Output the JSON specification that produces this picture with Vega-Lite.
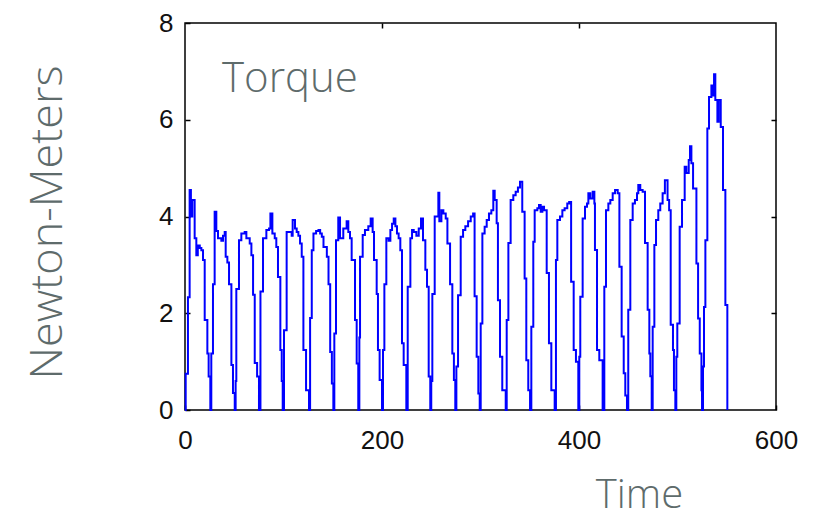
{
  "$schema": "https://vega.github.io/schema/vega-lite/v6.json",
  "width": 591,
  "height": 387,
  "autosize": {"type": "none"},
  "padding": {"left": 185, "top": 23, "right": 37, "bottom": 102},
  "background": "white",
  "config": {
    "view": {"stroke": "#000000", "strokeWidth": 1.5},
    "axis": {"grid": false, "domain": false, "tickSize": -5, "tickWidth": 1.5, "tickColor": "#000000", "labelFlush": false, "labelOverlap": false, "labelFont": "Liberation Sans", "labelFontSize": 26, "labelColor": "#111111"}
  },
  "layer": [
    {
      "data": {"values": [
        {"t":0,"v":0},{"t":0.7,"v":0.75},{"t":3,"v":2.33},{"t":4.7,"v":4.55},{"t":6,"v":4.0},{"t":7.4,"v":4.34},{"t":9.8,"v":3.55},{"t":11.5,"v":3.2},{"t":13,"v":3.4},{"t":15,"v":3.35},{"t":16.6,"v":3.3},{"t":18.3,"v":3.1},{"t":20,"v":1.86},{"t":22.7,"v":1.17},{"t":24,"v":0.69},{"t":25.7,"v":0},
        {"t":26.7,"v":1.17},{"t":28.4,"v":2.6},{"t":30.1,"v":4.1},{"t":31.8,"v":3.7},{"t":33.5,"v":3.55},{"t":36.9,"v":3.5},{"t":38.6,"v":3.6},{"t":40.3,"v":3.68},{"t":41.3,"v":3.17},{"t":43,"v":3.05},{"t":44.7,"v":2.6},{"t":47.1,"v":0.93},{"t":48.7,"v":0.35},{"t":50.5,"v":0},
        {"t":51.4,"v":0.6},{"t":52.1,"v":2.5},{"t":54.8,"v":3.51},{"t":57.2,"v":3.65},{"t":60.6,"v":3.68},{"t":62.3,"v":3.55},{"t":65.7,"v":3.44},{"t":67.4,"v":3.2},{"t":69.1,"v":2.38},{"t":70.8,"v":0.97},{"t":73.2,"v":0.69},{"t":75.1,"v":0},
        {"t":76.6,"v":2.45},{"t":79.2,"v":3.55},{"t":82.6,"v":3.72},{"t":85.3,"v":3.75},{"t":86.7,"v":4.06},{"t":88.7,"v":3.65},{"t":91.1,"v":3.55},{"t":92.7,"v":3.37},{"t":94.4,"v":2.75},{"t":96.8,"v":1.24},{"t":98.2,"v":0.6},{"t":99.2,"v":0},
        {"t":100.5,"v":1.65},{"t":103.2,"v":3.68},{"t":108.3,"v":3.6},{"t":109.3,"v":3.93},{"t":111.7,"v":3.75},{"t":113.4,"v":3.68},{"t":115.1,"v":3.6},{"t":116.8,"v":3.44},{"t":118.5,"v":3.17},{"t":120.2,"v":1.24},{"t":122.9,"v":0.41},{"t":125.9,"v":0},
        {"t":127,"v":1.9},{"t":128.7,"v":3.3},{"t":130.4,"v":3.65},{"t":133.1,"v":3.7},{"t":135.5,"v":3.72},{"t":137.2,"v":3.65},{"t":138.9,"v":3.58},{"t":140.6,"v":3.37},{"t":144,"v":3.17},{"t":145.7,"v":2.6},{"t":147.4,"v":1.2},{"t":149.1,"v":0.55},{"t":150.6,"v":0},
        {"t":151.6,"v":1.58},{"t":153.3,"v":3.51},{"t":155.6,"v":3.98},{"t":157.4,"v":3.55},{"t":160.7,"v":3.75},{"t":164.1,"v":3.9},{"t":165.8,"v":3.68},{"t":167.5,"v":3.55},{"t":169.2,"v":3.1},{"t":172.6,"v":1.86},{"t":174.3,"v":0.96},{"t":175.9,"v":0},
        {"t":177,"v":1.5},{"t":177.7,"v":3.17},{"t":180.4,"v":3.62},{"t":182.7,"v":3.72},{"t":186.1,"v":3.8},{"t":188.5,"v":3.96},{"t":190.5,"v":3.68},{"t":191.9,"v":3.1},{"t":194.6,"v":2.4},{"t":195.9,"v":1.24},{"t":197.6,"v":0.62},{"t":200,"v":0},
        {"t":201,"v":1.24},{"t":202.4,"v":2.6},{"t":204.4,"v":3.55},{"t":206.7,"v":3.5},{"t":208.5,"v":3.72},{"t":210.2,"v":3.85},{"t":211.9,"v":3.96},{"t":213.6,"v":3.8},{"t":215.2,"v":3.65},{"t":216.9,"v":3.55},{"t":218.6,"v":3.3},{"t":220.3,"v":1.38},{"t":222,"v":0.93},{"t":224.7,"v":0},
        {"t":226.1,"v":2.55},{"t":228.8,"v":3.55},{"t":230.5,"v":3.72},{"t":232.2,"v":3.68},{"t":234.9,"v":3.6},{"t":237.3,"v":3.75},{"t":239.6,"v":3.96},{"t":241.6,"v":3.51},{"t":244,"v":2.9},{"t":245.7,"v":2.55},{"t":247.4,"v":0.69},{"t":249,"v":0},
        {"t":250,"v":0.6},{"t":251.1,"v":2.4},{"t":253.5,"v":4.0},{"t":256.2,"v":4.0},{"t":257.2,"v":4.49},{"t":258.2,"v":3.9},{"t":260.3,"v":4.13},{"t":262.3,"v":4.06},{"t":264.7,"v":3.96},{"t":266.4,"v":3.44},{"t":269.1,"v":2.6},{"t":271.4,"v":1.17},{"t":273,"v":0.62},{"t":274.4,"v":0},
        {"t":275.5,"v":0.9},{"t":277.2,"v":2.37},{"t":279.9,"v":3.58},{"t":282.3,"v":3.72},{"t":284.6,"v":3.8},{"t":287.4,"v":3.9},{"t":290.1,"v":4.0},{"t":292.5,"v":4.06},{"t":294,"v":2.35},{"t":296.1,"v":1.1},{"t":297.8,"v":0.34},{"t":299.2,"v":0},
        {"t":300.2,"v":1.79},{"t":301.9,"v":3.65},{"t":304.2,"v":3.79},{"t":306.3,"v":3.93},{"t":308.6,"v":4.06},{"t":311,"v":4.13},{"t":313,"v":4.53},{"t":314.4,"v":4.34},{"t":316.4,"v":3.86},{"t":317.7,"v":2.27},{"t":319.8,"v":1.1},{"t":322.1,"v":0.41},{"t":325.6,"v":0},
        {"t":326.6,"v":1.86},{"t":328.3,"v":3.45},{"t":330.6,"v":4.34},{"t":333.3,"v":4.44},{"t":335.7,"v":4.51},{"t":338,"v":4.6},{"t":340.1,"v":4.72},{"t":342.4,"v":4.1},{"t":344.8,"v":2.72},{"t":346.5,"v":1.03},{"t":348.5,"v":0.41},{"t":350.3,"v":0},
        {"t":351.6,"v":1.72},{"t":353.6,"v":3.48},{"t":355,"v":4.13},{"t":357.7,"v":4.17},{"t":359.4,"v":4.24},{"t":361.1,"v":4.1},{"t":362.8,"v":4.2},{"t":364.5,"v":4.13},{"t":367.2,"v":2.83},{"t":369.5,"v":1.38},{"t":371.9,"v":0.41},{"t":375.3,"v":0},
        {"t":376.6,"v":3.1},{"t":378,"v":3.93},{"t":380.7,"v":4.0},{"t":383.1,"v":4.13},{"t":385.4,"v":4.17},{"t":388.1,"v":4.27},{"t":390,"v":4.3},{"t":392,"v":2.65},{"t":394.6,"v":1.24},{"t":396.9,"v":1.0},{"t":399.3,"v":0},
        {"t":400.3,"v":1.1},{"t":401.3,"v":2.34},{"t":403.7,"v":3.96},{"t":406.1,"v":4.2},{"t":408.1,"v":4.27},{"t":409.5,"v":4.48},{"t":411.5,"v":4.37},{"t":413.9,"v":4.51},{"t":415.6,"v":4.27},{"t":416.2,"v":3.31},{"t":418.3,"v":1.24},{"t":420.6,"v":1.03},{"t":424,"v":0},
        {"t":425.7,"v":2.55},{"t":427.4,"v":4.13},{"t":429.8,"v":4.27},{"t":431.8,"v":4.34},{"t":434.2,"v":4.48},{"t":436.6,"v":4.55},{"t":439.3,"v":4.48},{"t":441,"v":2.96},{"t":443.3,"v":1.52},{"t":445.4,"v":0.76},{"t":447,"v":0.3},{"t":448.7,"v":0},
        {"t":450,"v":2.07},{"t":452.1,"v":3.93},{"t":454.5,"v":4.27},{"t":456.8,"v":4.34},{"t":458.9,"v":4.48},{"t":460.2,"v":4.65},{"t":462.2,"v":4.55},{"t":464.6,"v":4.51},{"t":467,"v":3.45},{"t":469.7,"v":2.07},{"t":471.4,"v":1.17},{"t":472.4,"v":0.7},{"t":473.8,"v":0},
        {"t":474.8,"v":1.72},{"t":476.5,"v":3.41},{"t":478.2,"v":3.93},{"t":480.5,"v":4.13},{"t":482.5,"v":4.27},{"t":484.9,"v":4.48},{"t":487.2,"v":4.75},{"t":489.9,"v":4.34},{"t":491.5,"v":4.13},{"t":493.1,"v":1.76},{"t":495.4,"v":1.24},{"t":496.4,"v":0.41},{"t":497.8,"v":0},
        {"t":498.8,"v":1.1},{"t":499.8,"v":1.79},{"t":502.2,"v":3.79},{"t":504.6,"v":4.34},{"t":507.3,"v":5.03},{"t":509,"v":4.9},{"t":511.4,"v":5.17},{"t":512.7,"v":5.45},{"t":514.1,"v":5.1},{"t":515.8,"v":4.58},{"t":519.2,"v":3.03},{"t":520.9,"v":1.89},{"t":522.6,"v":1.17},{"t":524.3,"v":0.41},{"t":524.9,"v":0},
        {"t":525.9,"v":0.9},{"t":526.9,"v":2.13},{"t":528.3,"v":3.51},{"t":530.3,"v":5.82},{"t":532,"v":6.47},{"t":534.4,"v":6.71},{"t":535.4,"v":6.5},{"t":537.1,"v":6.94},{"t":538.4,"v":6.41},{"t":540.5,"v":5.96},{"t":541.8,"v":6.41},{"t":543.9,"v":5.85},{"t":546.2,"v":4.55},{"t":548.6,"v":2.17},{"t":550.6,"v":0}
      ]},
      "mark": {"type": "line", "interpolate": "step-after", "color": "#0000ff", "strokeWidth": 2},
      "encoding": {
        "x": {"field": "t", "type": "quantitative", "scale": {"domain": [0, 600], "nice": false, "zero": true},
          "axis": {"orient": "bottom", "values": [0, 200, 400, 600], "labelPadding": 22, "title": "Time", "titleFont": "Open Sans", "titleFontWeight": 300, "titleFontSize": 40, "titleColor": "#5e6b6b", "titleX": 454, "titleY": 97, "titleAlign": "center", "titleBaseline": "alphabetic"}},
        "y": {"field": "v", "type": "quantitative", "scale": {"domain": [0, 8], "nice": false},
          "axis": {"orient": "left", "values": [0, 2, 4, 6, 8], "labelPadding": 17, "title": "Newton-Meters", "titleFont": "Open Sans", "titleFontWeight": 300, "titleFontSize": 45, "titleColor": "#5e6b6b", "titleX": -138, "titleY": 199, "titleAngle": -90, "titleAlign": "center", "titleBaseline": "middle"}}
      }
    },
    {
      "data": {"values": [{"label": "Torque"}]},
      "mark": {"type": "text", "align": "left", "baseline": "alphabetic", "font": "Open Sans", "fontWeight": 300, "fontSize": 42, "color": "#5e6b6b"},
      "encoding": {
        "x": {"datum": 37.6, "type": "quantitative", "axis": {"orient": "top", "values": [200, 400], "labels": false, "title": null}},
        "y": {"datum": 6.57, "type": "quantitative", "axis": {"orient": "right", "values": [2, 4, 6], "labels": false, "title": null}},
        "text": {"field": "label"}
      }
    }
  ]
}
